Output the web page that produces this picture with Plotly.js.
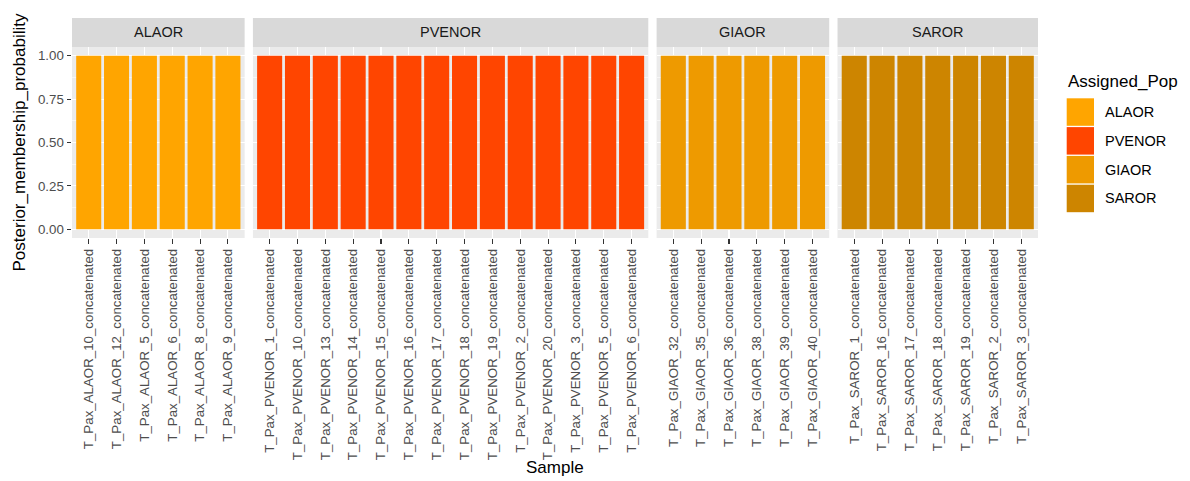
<!DOCTYPE html>
<html>
<head>
<meta charset="utf-8">
<script src="https://cdn.plot.ly/plotly-3.0.1.min.js"></script>
<style>html,body{margin:0;padding:0;background:#fff;} #chart{width:1190px;height:481px;}</style>
</head>
<body>
<div id="chart"></div>
<script>
// ---- data ----
const populations = ["ALAOR", "PVENOR", "GIAOR", "SAROR"];
const popColors = ["#FFA500", "#FF4500", "#EE9A00", "#CD8500"];
const samplesALAOR = ["T_Pax_ALAOR_10_concatenated","T_Pax_ALAOR_12_concatenated","T_Pax_ALAOR_5_concatenated","T_Pax_ALAOR_6_concatenated","T_Pax_ALAOR_8_concatenated","T_Pax_ALAOR_9_concatenated"];
const samplesPVENOR = ["T_Pax_PVENOR_1_concatenated","T_Pax_PVENOR_10_concatenated","T_Pax_PVENOR_13_concatenated","T_Pax_PVENOR_14_concatenated","T_Pax_PVENOR_15_concatenated","T_Pax_PVENOR_16_concatenated","T_Pax_PVENOR_17_concatenated","T_Pax_PVENOR_18_concatenated","T_Pax_PVENOR_19_concatenated","T_Pax_PVENOR_2_concatenated","T_Pax_PVENOR_20_concatenated","T_Pax_PVENOR_3_concatenated","T_Pax_PVENOR_5_concatenated","T_Pax_PVENOR_6_concatenated"];
const samplesGIAOR = ["T_Pax_GIAOR_32_concatenated","T_Pax_GIAOR_35_concatenated","T_Pax_GIAOR_36_concatenated","T_Pax_GIAOR_38_concatenated","T_Pax_GIAOR_39_concatenated","T_Pax_GIAOR_40_concatenated"];
const samplesSAROR = ["T_Pax_SAROR_1_concatenated","T_Pax_SAROR_16_concatenated","T_Pax_SAROR_17_concatenated","T_Pax_SAROR_18_concatenated","T_Pax_SAROR_19_concatenated","T_Pax_SAROR_2_concatenated","T_Pax_SAROR_3_concatenated"];
const probALAOR = [1, 1, 1, 1, 1, 1];
const probPVENOR = [1, 1, 1, 1, 1, 1, 1, 1, 1, 1, 1, 1, 1, 1];
const probGIAOR = [1, 1, 1, 1, 1, 1];
const probSAROR = [1, 1, 1, 1, 1, 1, 1];
const yTicks = [0, 0.25, 0.5, 0.75, 1];
const yTickLabels = ["0.00", "0.25", "0.50", "0.75", "1.00"];

const sampleSets = [samplesALAOR, samplesPVENOR, samplesGIAOR, samplesSAROR];
const probSets = [probALAOR, probPVENOR, probGIAOR, probSAROR];

// ---- geometry (pixels) ----
const W = 1190, H = 481;
const L = 72, R = 1038, T = 47, B = 238;
const panelGap = 8.3;
const pw = R - L, ph = B - T;
const px2x = p => (p - L) / pw;
const py2y = p => (B - p) / ph;

const units = sampleSets.map(s => s.length + 0.2);
const totalUnits = units.reduce((a, b) => a + b, 0);
const unitPx = (pw - panelGap * (sampleSets.length - 1)) / totalUnits;

const domains = [];
let cur = L;
units.forEach(u => {
  const w = u * unitPx;
  domains.push([px2x(cur), px2x(cur + w)]);
  cur += w + panelGap;
});

const fam = "Liberation Sans, Arial, sans-serif";
const tickFont = {family: fam, size: 13.3, color: "#4D4D4D"};
const stripFont = {family: fam, size: 14.5, color: "#1A1A1A"};
const titleFont = {family: fam, size: 17, color: "#000000"};

const traces = [];
const layout = {
  width: W, height: H,
  margin: {l: L, r: W - R, t: T, b: H - B, pad: 0},
  paper_bgcolor: "#FFFFFF",
  plot_bgcolor: "#EBEBEB",
  showlegend: false,
  bargap: 0.1,
  shapes: [],
  annotations: [],
  yaxis: {
    range: [-0.05, 1.05],
    tickvals: yTicks, ticktext: yTickLabels,
    ticks: "outside", ticklen: 4.5, tickwidth: 1.07, tickcolor: "#333333",
    tickfont: tickFont,
    showgrid: true, gridcolor: "#FFFFFF", gridwidth: 1.07,
    minor: {tickvals: [0.125, 0.375, 0.625, 0.875], showgrid: true, gridcolor: "#FFFFFF", gridwidth: 0.53, ticks: ""},
    zeroline: false, showline: false, fixedrange: true,
    anchor: "x"
  }
};

sampleSets.forEach((samples, i) => {
  const ax = i === 0 ? "x" : "x" + (i + 1);
  const axKey = i === 0 ? "xaxis" : "xaxis" + (i + 1);
  traces.push({
    type: "bar",
    x: samples, y: probSets[i],
    xaxis: ax, yaxis: "y",
    marker: {color: popColors[i], line: {width: 0}},
    name: populations[i],
    hoverinfo: "x+y"
  });
  layout[axKey] = {
    domain: domains[i],
    type: "category",
    categoryorder: "array", categoryarray: samples,
    range: [-0.6, samples.length - 0.4],
    tickangle: -90,
    ticks: "outside", ticklen: 4.5, tickwidth: 1.07, tickcolor: "#333333",
    tickfont: tickFont,
    showgrid: true, gridcolor: "#FFFFFF", gridwidth: 1.07,
    zeroline: false, showline: false, fixedrange: true,
    anchor: "y"
  };
  // facet strip
  layout.shapes.push({
    type: "rect", xref: "paper", yref: "paper", layer: "below",
    x0: domains[i][0], x1: domains[i][1], y0: py2y(47), y1: py2y(18),
    fillcolor: "#D9D9D9", line: {width: 0}
  });
  layout.annotations.push({
    xref: "paper", yref: "paper",
    x: (domains[i][0] + domains[i][1]) / 2, y: py2y(32.5),
    xanchor: "center", yanchor: "middle",
    text: populations[i], showarrow: false, font: stripFont
  });
});

// axis titles
layout.annotations.push({
  xref: "paper", yref: "paper", x: px2x(555), y: py2y(467.5),
  xanchor: "center", yanchor: "middle", showarrow: false,
  text: "Sample", font: titleFont
});
layout.annotations.push({
  xref: "paper", yref: "paper", x: px2x(19), y: py2y(142.5),
  xanchor: "center", yanchor: "middle", showarrow: false, textangle: -90,
  text: "Posterior_membership_probability", font: titleFont
});

// legend (drawn manually to match ggplot key style)
layout.annotations.push({
  xref: "paper", yref: "paper", x: px2x(1066), y: py2y(81.5),
  xanchor: "left", yanchor: "middle", showarrow: false,
  text: "Assigned_Pop", font: titleFont
});
const keyTop = 98.3, keyStep = 28.8, keyH = 27.5;
populations.forEach((p, i) => {
  const y0 = keyTop + i * keyStep;
  layout.shapes.push({
    type: "rect", xref: "paper", yref: "paper",
    x0: px2x(1066.7), x1: px2x(1094), y0: py2y(y0 + keyH), y1: py2y(y0),
    fillcolor: popColors[i], line: {width: 0}
  });
  layout.annotations.push({
    xref: "paper", yref: "paper", x: px2x(1103), y: py2y(y0 + keyH / 2),
    xanchor: "left", yanchor: "middle", showarrow: false,
    text: p, font: {family: fam, size: 14.5, color: "#000000"}
  });
});

Plotly.newPlot("chart", traces, layout, {displayModeBar: false, staticPlot: true});
</script>
</body>
</html>
